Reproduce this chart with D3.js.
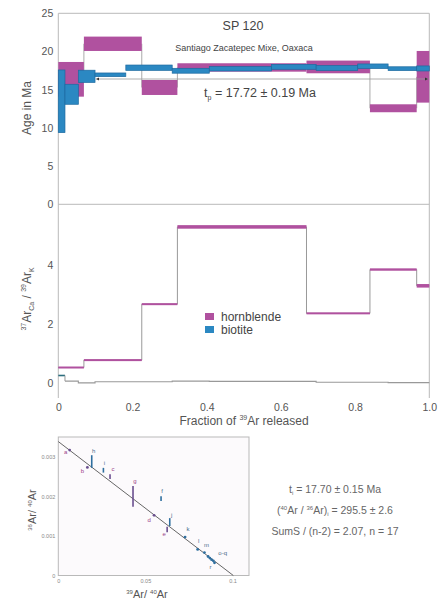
<!DOCTYPE html>
<html><head><meta charset="utf-8">
<script src="https://cdn.jsdelivr.net/npm/d3@7"></script>
<style>
body{margin:0;background:#fff;}
text{font-family:"Liberation Sans",Arial,sans-serif;}
</style></head>
<body><svg id="c" width="446" height="603"></svg>
<script>
// ---------- DATA ----------
// Hornblende step-heating (fraction edges, age Ma, 1σ half-height, Ca/K)
const hblEdges = [0, 0.069, 0.225, 0.321, 0.669, 0.84, 0.966, 1.0];
const hblAge   = [16.36, 21.01, 15.29, 17.91, 17.98, 12.57, 16.69];
const hblAgeErr= [2.27, 0.94, 0.98, 0.55, 0.83, 0.52, 3.38];
const hblCaK   = [0.53, 0.78, 2.67, 5.28, 2.36, 3.84, 3.29];
const hblCaKErr= [0.03, 0.03, 0.03, 0.06, 0.03, 0.04, 0.06];
// Biotite step-heating
const btEdges  = [0, 0.018, 0.054, 0.099, 0.182, 0.307, 0.407, 0.575, 0.695, 0.807, 0.889, 0.966, 1.0];
const btAge    = [13.48, 14.40, 16.75, 16.95, 17.88, 17.48, 17.74, 17.99, 17.83, 18.07, 17.75, 17.78];
const btAgeErr = [4.10, 1.31, 0.80, 0.24, 0.35, 0.32, 0.29, 0.32, 0.33, 0.30, 0.25, 0.33];
const btCaK    = [0.26, 0.07, 0.01, 0.05, 0.05, 0.07, 0.06, 0.06, 0.03, 0.03, 0.02, 0.02];
// Plateau
const plateau = {age: 17.72, err: 0.19, from: 0.102, to: 0.997, lineAge: 16.4};
// Axis ticks
const ageTicks = [0, 5, 10, 15, 20, 25];
const caKTicks = [0, 2, 4];
const fracTicks = [0, 0.2, 0.4, 0.6, 0.8, 1.0];
// Isochron points: label, 39Ar/40Ar, 36Ar/40Ar, y half-error, mineral
const isoLabel = ["a","b","h","i","c","g","f","d","e","j","k","l","m","n","o","p","q","r"];
const isoX     = [0.0065,0.0167,0.0192,0.0259,0.0297,0.0429,0.0590,0.0550,0.0625,0.0640,0.0728,0.0800,0.0839,0.0860,0.0870,0.0880,0.0890,0.0897];
const isoY     = [0.00317,0.00273,0.00288,0.00266,0.00250,0.00200,0.00194,0.00152,0.00116,0.00135,0.00097,0.00066,0.00058,0.00048,0.00044,0.00040,0.00037,0.00032];
const isoYErr  = [0.00001,0.00001,0.00016,0.00006,0.00006,0.00026,0.00006,0.00003,0.00007,0.00010,0.00002,0.00002,0.00002,0.00003,0.00003,0.00003,0.00003,0.00003];
const isoMin   = ["h","h","b","b","h","h","b","h","h","b","b","b","b","b","b","b","b","b"];
const isoXTicks = [0, 0.05, 0.1];
const isoYTicks = [0, 0.001, 0.002, 0.003];
const isoTrapped = 295.5;      // (40Ar/36Ar)i
const isoXIntercept = 0.1005;   // 39Ar/40Ar at 36Ar/40Ar = 0

// ---------- STYLE ----------
const MAG = "#b0519f", MAGD = "#9a4289", BLUE = "#2b88c2", BLUED = "#1d6aa0";
const GRAY = "#b9b9b9", TXT = "#555";

const svg = d3.select("#c");
svg.append("rect").attr("width",446).attr("height",603).attr("fill","#fff");

const x = d3.scaleLinear().domain([0,1]).range([58.3,429.3]);
const yAge = d3.scaleLinear().domain([0,25]).range([204.3,13.3]);
const yCa = d3.scaleLinear().domain([-0.5,6]).range([398,205.6]);

// frames
const fr = svg.append("g").attr("stroke",GRAY).attr("fill","none").attr("stroke-width",1);
fr.append("line").attr("x1",x(0)).attr("x2",x(1)).attr("y1",yAge(25)).attr("y2",yAge(25));
fr.append("line").attr("x1",x(0)).attr("x2",x(0)).attr("y1",yAge(25)).attr("y2",yCa(-0.5));
fr.append("line").attr("x1",x(1)).attr("x2",x(1)).attr("y1",yAge(25)).attr("y2",yCa(-0.5));
fr.append("line").attr("x1",x(0)).attr("x2",x(1)).attr("y1",yAge(0)).attr("y2",yAge(0));

// ---- Top panel: age spectra ----
const topG = svg.append("g");
// hornblende connectors
for (let i=1;i<hblAge.length;i++){
  topG.append("line").attr("x1",x(hblEdges[i])).attr("x2",x(hblEdges[i]))
    .attr("y1",yAge(hblAge[i-1])).attr("y2",yAge(hblAge[i]))
    .attr("stroke","#aaa").attr("stroke-width",1);
}
hblAge.forEach((a,i)=>{
  topG.append("rect").attr("x",x(hblEdges[i])).attr("width",x(hblEdges[i+1])-x(hblEdges[i]))
    .attr("y",yAge(a+hblAgeErr[i])).attr("height",yAge(a-hblAgeErr[i])-yAge(a+hblAgeErr[i]))
    .attr("fill",MAG);
});
btAge.forEach((a,i)=>{
  topG.append("rect").attr("x",x(btEdges[i])).attr("width",x(btEdges[i+1])-x(btEdges[i]))
    .attr("y",yAge(a+btAgeErr[i])).attr("height",yAge(a-btAgeErr[i])-yAge(a+btAgeErr[i]))
    .attr("fill",BLUE).attr("stroke",BLUED).attr("stroke-width",0.7);
});
// plateau arrow
svg.append("defs").html(
 '<marker id="ar" viewBox="0 0 10 10" refX="10" refY="5" markerWidth="4" markerHeight="4" orient="auto-start-reverse"><path d="M0,0L10,5L0,10z" fill="#333"/></marker>');
topG.append("line").attr("x1",x(plateau.from)).attr("x2",x(plateau.to))
  .attr("y1",yAge(plateau.lineAge)).attr("y2",yAge(plateau.lineAge))
  .attr("stroke","#999").attr("stroke-width",0.8)
  .attr("marker-start","url(#ar)").attr("marker-end","url(#ar)");
const tp = topG.append("text").attr("x",260).attr("y",97).attr("text-anchor","middle")
  .attr("font-size",12.5).attr("fill","#444");
tp.append("tspan").text("t");
tp.append("tspan").attr("font-size",7).attr("dy",3).text("p");
tp.append("tspan").attr("dy",-3).text(" = " + plateau.age.toFixed(2) + " \u00b1 " + plateau.err.toFixed(2) + " Ma");
topG.append("text").attr("x",243).attr("y",30).attr("text-anchor","middle")
  .attr("font-size",12.5).attr("fill","#444").text("SP 120");
topG.append("text").attr("x",244).attr("y",51).attr("text-anchor","middle")
  .attr("font-size",9).attr("fill","#444").text("Santiago Zacatepec Mixe, Oaxaca");

// y axis age
const ax1 = svg.append("g").attr("transform",`translate(${x(0)},0)`)
  .call(d3.axisLeft(yAge).tickValues(ageTicks).tickSize(0).tickPadding(5).tickFormat(d3.format("d")));
ax1.select(".domain").remove();
ax1.selectAll("text").attr("font-size",10.5).attr("fill",TXT).attr("font-family","Liberation Sans, Arial, sans-serif");
svg.append("text").attr("transform","translate(31,108) rotate(-90)").attr("text-anchor","middle")
  .attr("font-size",12).attr("fill",TXT).text("Age in Ma");

// ---- Lower panel: Ca/K ----
const low = svg.append("g");
function stepPath(edges, vals){
  const pts=[];
  vals.forEach((v,i)=>{pts.push([edges[i],v]);pts.push([edges[i+1],v]);});
  return d3.line().x(d=>x(d[0])).y(d=>yCa(d[1]))(pts);
}
low.append("path").attr("d",stepPath(hblEdges,hblCaK)).attr("fill","none").attr("stroke","#999").attr("stroke-width",1);
hblCaK.forEach((v,i)=>{
  const h = Math.max(yCa(v-hblCaKErr[i])-yCa(v+hblCaKErr[i]),2);
  low.append("rect").attr("x",x(hblEdges[i])).attr("width",x(hblEdges[i+1])-x(hblEdges[i]))
    .attr("y",yCa(v)-h/2).attr("height",h).attr("fill",MAG);
});
low.append("path").attr("d",stepPath(btEdges.slice(1),btCaK.slice(1))).attr("fill","none").attr("stroke","#999").attr("stroke-width",1.1);
low.append("path").attr("d",stepPath(btEdges.slice(0,2),btCaK.slice(0,1))).attr("fill","none").attr("stroke","#2d6f7e").attr("stroke-width",1.6);
low.append("line").attr("x1",x(btEdges[1])).attr("x2",x(btEdges[1])).attr("y1",yCa(btCaK[0])).attr("y2",yCa(btCaK[1])).attr("stroke","#999");

const ax2 = svg.append("g").attr("transform",`translate(${x(0)},0)`)
  .call(d3.axisLeft(yCa).tickValues(caKTicks).tickSize(0).tickPadding(5).tickFormat(d3.format("d")));
ax2.select(".domain").remove();
ax2.selectAll("text").attr("font-size",10.5).attr("fill",TXT).attr("font-family","Liberation Sans, Arial, sans-serif");

const ax3 = svg.append("g").attr("transform",`translate(0,${yCa(-0.5)})`)
  .call(d3.axisBottom(x).tickValues(fracTicks).tickSize(0).tickPadding(6).tickFormat(d=>d===0?"0":d3.format(".1f")(d)));
ax3.select(".domain").remove();
ax3.selectAll("text").attr("font-size",10.5).attr("fill",TXT).attr("font-family","Liberation Sans, Arial, sans-serif");

const xt = svg.append("text").attr("x",244).attr("y",425).attr("text-anchor","middle").attr("font-size",12).attr("fill",TXT);
xt.append("tspan").text("Fraction of ");
xt.append("tspan").attr("font-size",7).attr("dy",-5).text("39");
xt.append("tspan").attr("dy",5).text("Ar released");

const yt = svg.append("text").attr("transform","translate(31,299) rotate(-90)").attr("text-anchor","middle").attr("font-size",12).attr("fill",TXT);
yt.append("tspan").attr("font-size",7).attr("dy",-5).text("37");
yt.append("tspan").attr("dy",5).text("Ar");
yt.append("tspan").attr("font-size",7).attr("dy",3).text("Ca");
yt.append("tspan").attr("dy",-3).text(" / ");
yt.append("tspan").attr("font-size",7).attr("dy",-5).text("39");
yt.append("tspan").attr("dy",5).text("Ar");
yt.append("tspan").attr("font-size",7).attr("dy",3).text("K");

// legend
const legItems = [["hornblende",MAG],["biotite",BLUE]];
legItems.forEach((d,i)=>{
  const yy = 316.5 + i*13;
  svg.append("rect").attr("x",205).attr("y",yy-3.5).attr("width",9).attr("height",7).attr("fill",d[1]);
  svg.append("text").attr("x",221).attr("y",yy+4).attr("font-size",12).attr("fill","#444").text(d[0]);
});

// ---- Isochron inset ----
const ix = d3.scaleLinear().domain([0,0.1095]).range([58.3,249]);
const iy = d3.scaleLinear().domain([0,0.0035]).range([575.5,437]);
svg.append("rect").attr("x",ix(0)).attr("y",iy(0.0035)).attr("width",ix(0.1095)-ix(0)).attr("height",iy(0)-iy(0.0035))
  .attr("fill","#fcfafc").attr("stroke",GRAY).attr("stroke-width",1);
// isochron line
svg.append("line").attr("x1",ix(0)).attr("y1",iy(1/isoTrapped)).attr("x2",ix(isoXIntercept)).attr("y2",iy(0))
  .attr("stroke","#555").attr("stroke-width",0.9);
const labOff = {a:[-4,4],b:[-5,5],h:[2,-2],i:[1,-3],c:[3,-3],g:[2,-3],f:[1,-3],d:[-5,5],e:[-3,4],j:[2,-1],k:[3,-5],l:[1,-6],m:[2,-5],r:[-4,5]};
isoLabel.forEach((lab,i)=>{
  const cx = ix(isoX[i]), y1 = iy(isoY[i]+isoYErr[i]), y2 = iy(isoY[i]-isoYErr[i]);
  const col = isoMin[i]==="h" ? "#6a4f8f" : "#2f6f9f";
  if (y2-y1 > 3) {
    svg.append("line").attr("x1",cx).attr("x2",cx).attr("y1",y1).attr("y2",y2).attr("stroke",col).attr("stroke-width",1.6);
  } else {
    svg.append("circle").attr("cx",cx).attr("cy",iy(isoY[i])).attr("r",1.4).attr("fill",col);
  }
  if (labOff[lab]) {
    const o = labOff[lab];
    const ty = o[1] < 0 ? y1 + o[1] : y2 + o[1];
    svg.append("text").attr("x",cx+o[0]).attr("y",ty).attr("font-size",6).attr("text-anchor","middle")
      .attr("fill", isoMin[i]==="h" ? MAGD : "#4a6a8a").text(lab);
  }
});
// o-q label
svg.append("text").attr("x",ix(isoX[16])+5).attr("y",iy(isoY[13])-1.5).attr("font-size",6).attr("fill","#4a6a8a").text("o-q");

const ax4 = svg.append("g").attr("transform",`translate(0,${iy(0)})`)
  .call(d3.axisBottom(ix).tickValues(isoXTicks).tickSize(0).tickPadding(4).tickFormat(d=>d===0?"0":String(d)));
ax4.select(".domain").remove();
ax4.selectAll("text").attr("font-size",5.5).attr("fill","#888");
const ax5 = svg.append("g").attr("transform",`translate(${ix(0)},0)`)
  .call(d3.axisLeft(iy).tickValues(isoYTicks).tickSize(0).tickPadding(3).tickFormat(d=>d===0?"0":d3.format(".3f")(d)));
ax5.select(".domain").remove();
ax5.selectAll("text").attr("font-size",5.5).attr("fill","#888");

const it = svg.append("text").attr("x",147).attr("y",598).attr("text-anchor","middle").attr("font-size",11).attr("fill",TXT);
it.append("tspan").attr("font-size",6).attr("dy",-4).text("39");
it.append("tspan").attr("dy",4).text("Ar/ ");
it.append("tspan").attr("font-size",6).attr("dy",-4).text("40");
it.append("tspan").attr("dy",4).text("Ar");
const iyt = svg.append("text").attr("transform","translate(36,510) rotate(-90)").attr("text-anchor","middle").attr("font-size",11).attr("fill",TXT);
iyt.append("tspan").attr("font-size",6).attr("dy",-4).text("36");
iyt.append("tspan").attr("dy",4).text("Ar/ ");
iyt.append("tspan").attr("font-size",6).attr("dy",-4).text("40");
iyt.append("tspan").attr("dy",4).text("Ar");

// results text
const rt = svg.append("g").attr("fill","#666").attr("font-size",10.5);
const r1 = rt.append("text").attr("x",335).attr("y",493).attr("text-anchor","middle");
r1.append("tspan").text("t");
r1.append("tspan").attr("font-size",6).attr("dy",2).text("i");
r1.append("tspan").attr("dy",-2).text(" = 17.70 \u00b1 0.15 Ma");
const r2 = rt.append("text").attr("x",335).attr("y",514).attr("text-anchor","middle");
r2.append("tspan").text("(");
r2.append("tspan").attr("font-size",6).attr("dy",-4).text("40");
r2.append("tspan").attr("dy",4).text("Ar / ");
r2.append("tspan").attr("font-size",6).attr("dy",-4).text("36");
r2.append("tspan").attr("dy",4).text("Ar)");
r2.append("tspan").attr("font-size",6).attr("dy",2).text("i");
r2.append("tspan").attr("dy",-2).text(" = 295.5 \u00b1 2.6");
rt.append("text").attr("x",335).attr("y",535).attr("text-anchor","middle").text("SumS / (n-2) = 2.07, n = 17");
</script></body></html>
